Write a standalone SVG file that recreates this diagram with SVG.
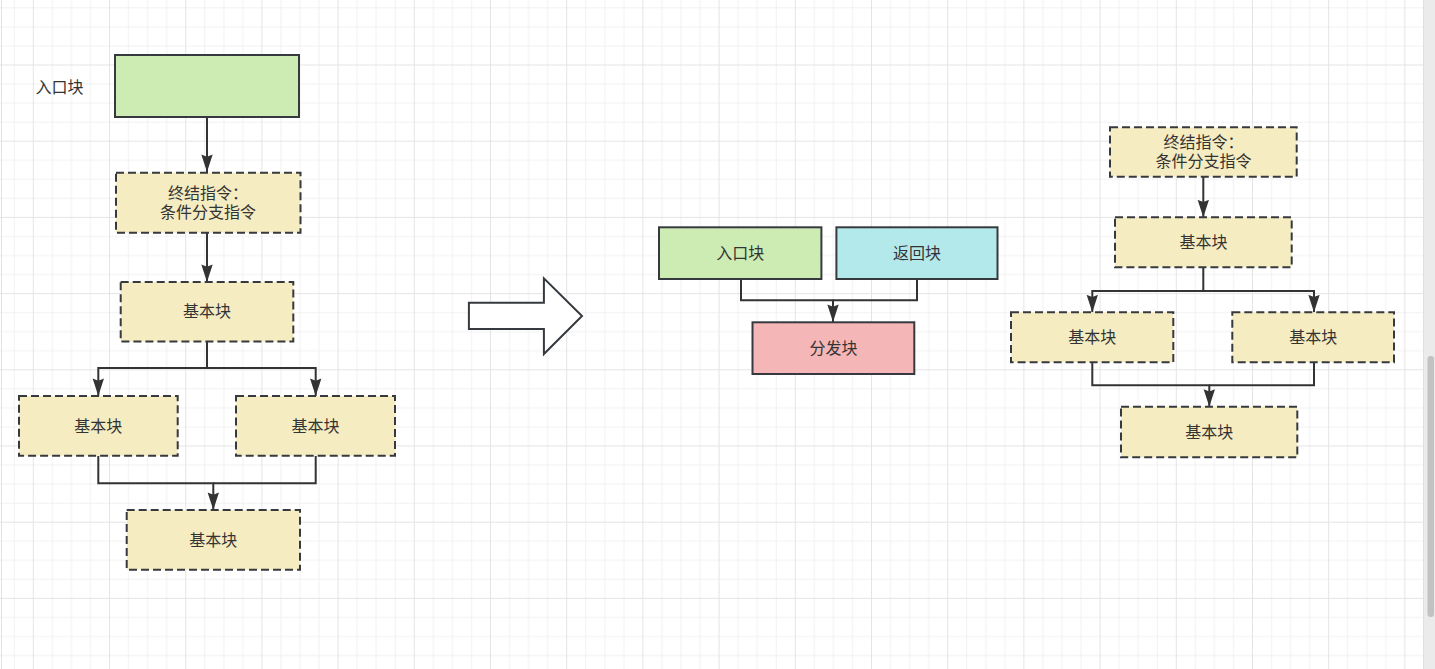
<svg xmlns="http://www.w3.org/2000/svg" width="1435" height="669" viewBox="0 0 1435 669">
<defs>
<pattern id="grid" width="76.2" height="76.2" patternUnits="userSpaceOnUse" x="32.8" y="64.5">
<path d="M19.55,0V76.2M38.6,0V76.2M57.65,0V76.2M0,19.55H76.2M0,38.6H76.2M0,57.65H76.2" stroke="#f1f1f1" stroke-width="1" fill="none"/>
<path d="M0.5,0V76.2M0,0.5H76.2" stroke="#e4e4e4" stroke-width="1" fill="none"/>
</pattern>
<marker id="arr" markerUnits="userSpaceOnUse" markerWidth="18" markerHeight="12" viewBox="0 0 16 11" refX="16" refY="5.5" orient="auto">
<path d="M0,0.3 L16,5.5 L0,10.7 L2,5.5 Z" fill="#333333"/>
</marker>
<style>
.t{font-family:"Liberation Sans","Noto Sans CJK SC",sans-serif;font-size:16px;fill:#333333;text-anchor:middle;dominant-baseline:central}
.solid{stroke:#36393d;stroke-width:2}
.dash{fill:#f5ecc2;stroke:#36393d;stroke-width:2;stroke-dasharray:8 4}
.green{fill:#cdecb4}
.cyan{fill:#b3e9ea}
.pink{fill:#f4b6b6}
.conn path{fill:none;stroke:#333333;stroke-width:2}
.ah{marker-end:url(#arr)}
</style>
</defs>
<rect width="1435" height="669" fill="#ffffff"/>
<rect width="1423" height="669" fill="url(#grid)"/>
<line x1="1.5" y1="0" x2="1.5" y2="669" stroke="#e2e2e2" stroke-width="1"/>
<g id="scrollbar">
<rect x="1423" y="0" width="12" height="669" fill="#ebebeb"/>
<line x1="1423.5" y1="0" x2="1423.5" y2="669" stroke="#e0e0e0" stroke-width="1"/>
<rect x="1427.5" y="356" width="6.5" height="261" rx="3" fill="#c2c2c2"/>
</g>

<g id="connectors" class="conn">
<path class="ah" d="M207,117V172"/>
<path class="ah" d="M207,233V282"/>
<path class="ah" d="M207,342V368H98.3V396"/>
<path class="ah" d="M207,368H315.7V396"/>
<path class="ah" d="M98.3,456V483.3H213.3V510"/>
<path d="M315.7,456V483.3H213.3"/>
<path class="ah" d="M741,279V300.3H833V322"/>
<path d="M917,279V300.3H833"/>
<path class="ah" d="M1203.3,177V217.3"/>
<path class="ah" d="M1203.3,267.3V291H1092.3V312.3"/>
<path class="ah" d="M1203.3,291H1314V312.3"/>
<path class="ah" d="M1092.3,362.3V385.3H1209.3V406.7"/>
<path d="M1314,362.3V385.3H1209.3"/>
</g>

<g id="label-entry">
<text class="t" x="59.5" y="87.5">入口块</text>
</g>
<g id="left-entry">
<rect class="solid green" x="115" y="55" width="184" height="62"/>
</g>
<g id="left-term">
<rect class="dash" x="116" y="172.7" width="184.5" height="60"/>
<text class="t" x="208" y="193">终结指令：</text>
<text class="t" x="208" y="212.5">条件分支指令</text>
</g>
<g id="left-b1">
<rect class="dash" x="120.7" y="282" width="172.6" height="59.5"/>
<text class="t" x="207" y="311.5">基本块</text>
</g>
<g id="left-b2">
<rect class="dash" x="19" y="396" width="158.7" height="59.7"/>
<text class="t" x="98.3" y="426.5">基本块</text>
</g>
<g id="left-b3">
<rect class="dash" x="236" y="396" width="159" height="59.7"/>
<text class="t" x="315.5" y="426.5">基本块</text>
</g>
<g id="left-b4">
<rect class="dash" x="126.7" y="510" width="173.3" height="59.7"/>
<text class="t" x="213.3" y="540">基本块</text>
</g>

<g id="big-arrow">
<polygon points="468.9,302.7 543.9,302.7 543.9,278.3 582,316 543.9,354 543.9,329 468.9,329" fill="#ffffff" stroke="#36393d" stroke-width="2" stroke-linejoin="miter"/>
</g>

<g id="mid-entry">
<rect class="solid green" x="659" y="227.3" width="162.4" height="51.7"/>
<text class="t" x="740.2" y="253">入口块</text>
</g>
<g id="mid-return">
<rect class="solid cyan" x="836.4" y="227.3" width="161.1" height="51.7"/>
<text class="t" x="917" y="253">返回块</text>
</g>
<g id="mid-dispatch">
<rect class="solid pink" x="752.5" y="322.3" width="161.8" height="51.7"/>
<text class="t" x="833.4" y="348">分发块</text>
</g>

<g id="right-term">
<rect class="dash" x="1110" y="127.3" width="186.7" height="49.4"/>
<text class="t" x="1203.4" y="142.3">终结指令：</text>
<text class="t" x="1203.4" y="161.7">条件分支指令</text>
</g>
<g id="right-b1">
<rect class="dash" x="1115" y="217.3" width="176.7" height="50"/>
<text class="t" x="1203.4" y="242.5">基本块</text>
</g>
<g id="right-b2">
<rect class="dash" x="1011" y="312.3" width="162.3" height="50"/>
<text class="t" x="1092.2" y="337.5">基本块</text>
</g>
<g id="right-b3">
<rect class="dash" x="1232.3" y="312.3" width="161.7" height="50"/>
<text class="t" x="1313.2" y="337.5">基本块</text>
</g>
<g id="right-b4">
<rect class="dash" x="1121" y="406.7" width="176.3" height="50.6"/>
<text class="t" x="1209.2" y="432">基本块</text>
</g>
</svg>
